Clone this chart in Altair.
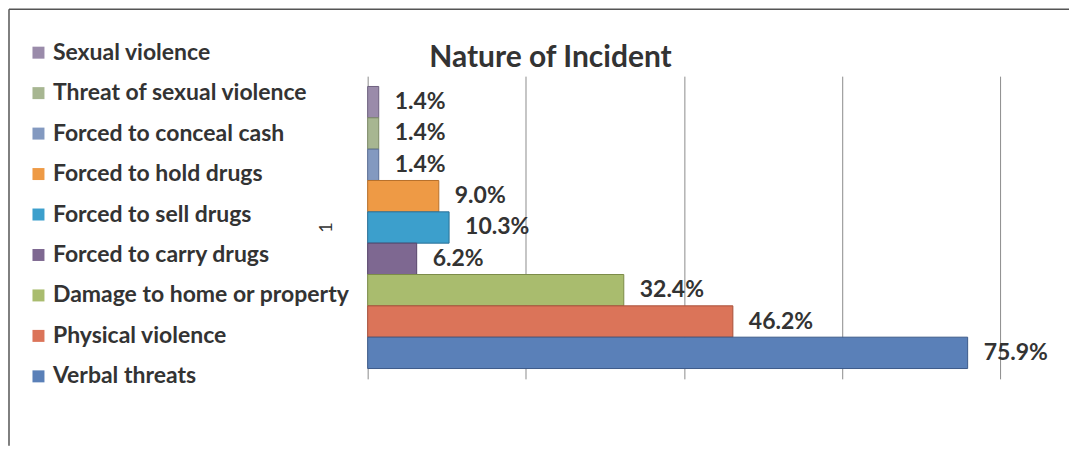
import altair as alt
import pandas as pd

categories = [
    "Sexual violence",
    "Threat of sexual violence",
    "Forced to conceal cash",
    "Forced to hold drugs",
    "Forced to sell drugs",
    "Forced to carry drugs",
    "Damage to home or property",
    "Physical violence",
    "Verbal threats",
]
values = [1.4, 1.4, 1.4, 9.0, 10.3, 6.2, 32.4, 46.2, 75.9]
fills = ["#9A8BAA", "#A7B691", "#8399C0", "#EE9A45", "#3C9FCC",
         "#7E6891", "#A9BC6E", "#DB7459", "#5A80B8"]
strokes = ["#6E6080", "#7C8A66", "#5A6E96", "#B8702A", "#2A7098",
           "#56446A", "#7B8C48", "#A8503A", "#3C5A8A"]
chart_title = "Nature of Incident"
axis_label = "1"
grid_values = [0, 20, 40, 60, 80]

FONT = "Lato"
W, H = 633, 303

df = pd.DataFrame({"category": categories, "value": values})

y = alt.Y(
    "category:N",
    sort=categories,
    scale=alt.Scale(paddingInner=0, paddingOuter=0.33),
    axis=alt.Axis(
        labels=False, ticks=False, domain=False, title=axis_label,
        titleAngle=270, titleFontWeight="normal", titleFontSize=18,
        titleFont=FONT, titleColor="#333333", titleX=-41, titleY=151,
        titleAlign="center", titleBaseline="middle",
    ),
)
x = alt.X(
    "value:Q",
    scale=alt.Scale(domain=[0, 80], nice=False, zero=True),
    axis=alt.Axis(values=grid_values, labels=False, ticks=False, domain=False,
                  grid=True, gridColor="#8c8c8c", gridWidth=1, title=None),
)

base = alt.Chart(df)

bars = base.mark_bar(strokeWidth=1).encode(
    x=x,
    y=y,
    color=alt.Color(
        "category:N",
        scale=alt.Scale(domain=categories, range=fills),
        legend=alt.Legend(
            orient="none", legendX=-341, legendY=-35, title=None,
            symbolType="square", symbolSize=144, symbolStrokeWidth=0,
            labelFont=FONT, labelFontSize=23, labelFontWeight="bold",
            labelColor="#333333", rowPadding=16.5, labelLimit=400,
            padding=0, labelOffset=3,
        ),
    ),
    stroke=alt.Stroke("category:N",
                      scale=alt.Scale(domain=categories, range=strokes),
                      legend=None),
)

labels = base.transform_calculate(
    label="format(datum.value, '.1f') + '%'"
).mark_text(
    align="left", baseline="middle", dx=16, font=FONT, fontSize=23,
    fontWeight="bold", color="#333333",
).encode(x=alt.X("value:Q"), y=alt.Y("category:N", sort=categories), text="label:N")

title_df = pd.DataFrame({"t": [chart_title]})
title = alt.Chart(title_df).mark_text(
    font=FONT, fontSize=30, fontWeight="bold", color="#333333",
    align="center", baseline="alphabetic",
).encode(x=alt.value(183), y=alt.value(-9), text="t:N")

frame_df = pd.DataFrame({"f": [0]})
frame_v = alt.Chart(frame_df).mark_rule(color="#555555", strokeWidth=1.5).encode(
    x=alt.value(-359), y=alt.value(-67), y2=alt.value(370)
)
frame_h = alt.Chart(frame_df).mark_rule(color="#555555", strokeWidth=1.5).encode(
    x=alt.value(-359), x2=alt.value(702), y=alt.value(-67)
)

chart = alt.layer(bars, labels, title, frame_v, frame_h).properties(
    width=W, height=H, padding=0
).configure_view(stroke=None)

chart.save("out.html", embed_options={"renderer": "svg", "actions": False})
